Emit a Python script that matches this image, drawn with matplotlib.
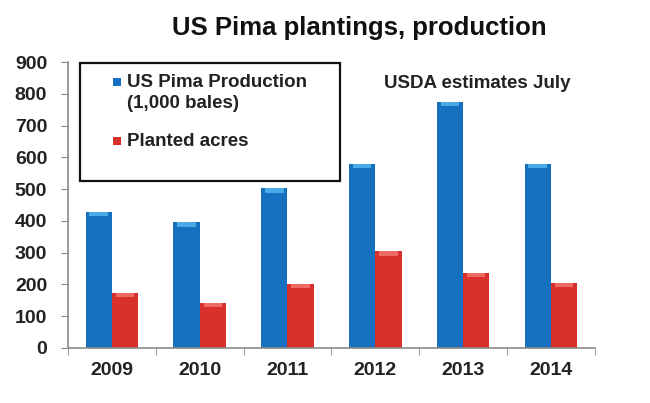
import matplotlib.pyplot as plt
from matplotlib.patches import Rectangle
import numpy as np

############################################### Data ###################################################################
years = ['2009', '2010', '2011', '2012', '2013', '2014']
production = [428, 396, 503, 580, 775, 580]   # US Pima production (1,000 bales)
planted = [174, 143, 202, 305, 237, 205]      # planted acres

############################################### Plot ###################################################################
plt.rcParams['font.family'] = ['Liberation Sans', 'DejaVu Sans']

fig = plt.figure(figsize=(6.5, 4.03), dpi=100)
ax = fig.add_axes([0.1046, 0.1365, 0.8104, 0.7095])

x = np.arange(len(years))
w = 0.3
blue, blue_top = '#1570c0', '#4aaae6'
red, red_top = '#d8312c', '#ee6a62'

bp = ax.bar(x - w / 2, production, w, color=blue, zorder=2)
br = ax.bar(x + w / 2, planted, w, color=red, zorder=2)

# lighter cap on top of each bar for the bevelled look
cap = 14
ax.bar(x - w / 2, cap, w * 0.7, bottom=np.array(production) - cap, color=blue_top, zorder=3)
ax.bar(x + w / 2, cap, w * 0.7, bottom=np.array(planted) - cap, color=red_top, zorder=3)

ax.set_xlim(-0.5, len(years) - 0.5)
ax.set_ylim(0, 900)
ax.set_yticks(range(0, 901, 100))
ax.set_xticks(x)
ax.set_xticklabels(years)
ax.set_xticks(np.arange(-0.5, len(years), 1), minor=True)

for side in ['top', 'right']:
    ax.spines[side].set_visible(False)
for side in ['left', 'bottom']:
    ax.spines[side].set_color('#8a8a8a')
    ax.spines[side].set_linewidth(1.2)

ax.tick_params(axis='y', direction='out', length=5, color='#8a8a8a', labelsize=14, pad=10, labelcolor='#222222')
ax.tick_params(axis='x', which='major', length=0, labelsize=14, pad=10, labelcolor='#222222')
ax.tick_params(axis='x', which='minor', direction='out', length=5, color='#8a8a8a')
for lab in ax.get_xticklabels() + ax.get_yticklabels():
    lab.set_fontweight('bold')

# hand-made legend: boxed, swatch aligned with the first text line
ax.add_patch(Rectangle((0.023, 0.584), 0.493, 0.4125, transform=ax.transAxes, facecolor='white',
                       edgecolor='#111111', linewidth=1.6, zorder=4, clip_on=False))
entries = [(blue, 'US Pima Production\n(1,000 bales)', 0.930), (red, 'Planted acres', 0.724)]
for col, label, yy in entries:
    ax.add_patch(Rectangle((0.0854, yy - 0.014), 0.0152, 0.028, transform=ax.transAxes,
                           facecolor=col, edgecolor='none', zorder=5, clip_on=False))
    ax.text(0.112, yy + 0.028, label, transform=ax.transAxes, fontsize=13.5, fontweight='bold',
            color='#222222', ha='left', va='top', linespacing=1.32, zorder=5)

ax.text(0.60, 0.925, 'USDA estimates July', transform=ax.transAxes, fontsize=13.5,
        fontweight='bold', color='#222222', ha='left', va='center')

fig.text(0.553, 0.93, 'US Pima plantings, production', ha='center', va='center',
         fontsize=18.5, fontweight='bold', color='#111111')

fig.savefig('out.png', dpi=100)
